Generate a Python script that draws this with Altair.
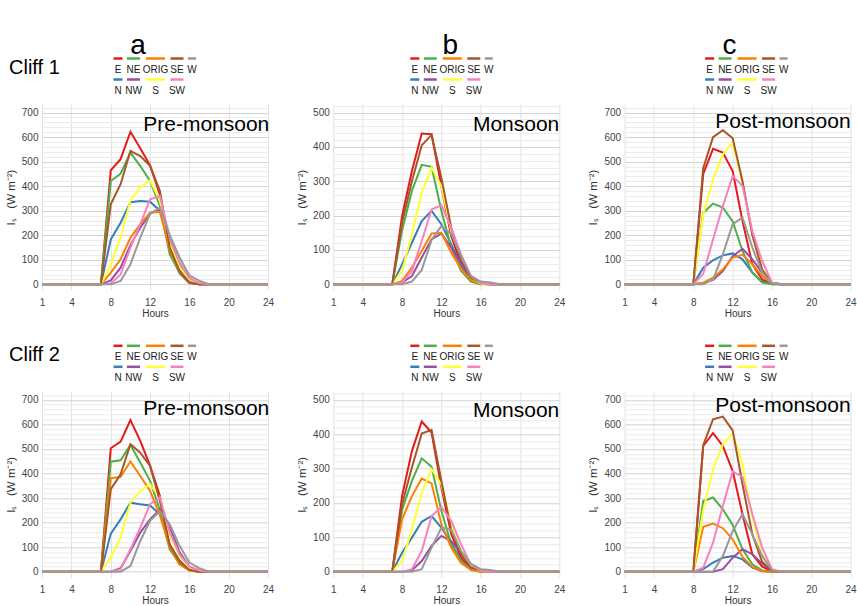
import altair as alt
import pandas as pd

FONT = "Liberation Sans"

HOURS = list(range(1, 25))
FIRST_HOUR = 7  # each series below lists hours 7..18; every other hour is zero
DIRECTIONS = ["E", "N", "NE", "NW", "ORIG", "S", "SE", "SW", "W"]
COLORS = ["#E41A1C", "#377EB8", "#4DAF4A", "#984EA3", "#FF7F00",
          "#FFFF33", "#A65628", "#F781BF", "#999999"]
X_TICKS = [1, 4, 8, 12, 16, 20, 24]

# Cliff 1 ------------------------------------------------------------------
cliff1_pre = {
    "E":    [0, 465, 510, 622, 555, 485, 365, 135, 45, 5, 0, 0],
    "N":    [0, 183, 251, 335, 340, 337, 300, 160, 60, 10, 0, 0],
    "NE":   [0, 421, 451, 537, 482, 421, 320, 122, 48, 7, 0, 0],
    "NW":   [0, 16, 68, 160, 231, 288, 306, 180, 80, 20, 5, 0],
    "ORIG": [0, 48, 102, 190, 245, 292, 296, 140, 55, 10, 0, 0],
    "S":    [0, 80, 190, 342, 394, 424, 340, 165, 70, 20, 5, 0],
    "SE":   [0, 326, 408, 544, 523, 483, 380, 150, 54, 7, 0, 0],
    "SW":   [0, 3, 40, 150, 245, 347, 360, 190, 90, 25, 5, 0],
    "W":    [0, 0, 14, 82, 190, 288, 313, 200, 110, 35, 15, 0],
}
cliff1_mon = {
    "E":    [0, 199, 330, 439, 437, 285, 140, 60, 15, 2, 0, 0],
    "N":    [0, 58, 121, 184, 214, 175, 117, 55, 15, 2, 0, 0],
    "NE":   [0, 157, 272, 348, 342, 214, 107, 40, 8, 0, 0, 0],
    "NW":   [0, 5, 24, 78, 131, 148, 107, 60, 20, 5, 0, 0],
    "ORIG": [0, 10, 49, 97, 148, 150, 92, 45, 12, 2, 0, 0],
    "S":    [0, 39, 146, 267, 340, 286, 155, 80, 20, 3, 0, 0],
    "SE":   [0, 180, 300, 405, 435, 310, 165, 70, 20, 5, 0, 0],
    "SW":   [0, 5, 39, 126, 218, 230, 165, 87, 25, 5, 0, 0],
    "W":    [0, 0, 8, 42, 129, 170, 146, 83, 24, 8, 5, 0],
}
cliff1_post = {
    "E":    [0, 0, 450, 552, 537, 462, 258, 82, 20, 2, 0, 0],
    "N":    [0, 0, 68, 98, 118, 126, 102, 48, 11, 0, 0, 0],
    "NE":   [0, 0, 292, 329, 313, 256, 136, 48, 7, 0, 0, 0],
    "NW":   [0, 0, 5, 18, 54, 115, 145, 102, 48, 5, 0, 0],
    "ORIG": [0, 0, 7, 27, 61, 109, 120, 82, 34, 3, 0, 0],
    "S":    [0, 0, 285, 428, 530, 578, 410, 210, 60, 5, 0, 0],
    "SE":   [0, 0, 473, 600, 628, 595, 420, 200, 60, 5, 0, 0],
    "SW":   [0, 0, 43, 183, 319, 442, 401, 217, 95, 7, 0, 0],
    "W":    [0, 0, 0, 20, 122, 245, 272, 150, 48, 5, 0, 0],
}

# Cliff 2 ------------------------------------------------------------------
cliff2_pre = {
    "E":    [0, 503, 530, 618, 533, 431, 308, 100, 30, 5, 0, 0],
    "N":    [0, 155, 213, 281, 275, 270, 234, 110, 45, 8, 0, 0],
    "NE":   [0, 448, 454, 516, 445, 370, 250, 90, 35, 5, 0, 0],
    "NW":   [0, 0, 14, 84, 159, 213, 254, 180, 80, 20, 5, 0],
    "ORIG": [0, 381, 386, 449, 390, 329, 230, 100, 30, 5, 0, 0],
    "S":    [0, 57, 139, 281, 329, 356, 302, 150, 60, 15, 3, 0],
    "SE":   [0, 336, 397, 519, 485, 431, 288, 110, 40, 8, 0, 0],
    "SW":   [0, 0, 10, 91, 179, 275, 302, 160, 70, 20, 5, 0],
    "W":    [0, 0, 0, 23, 125, 207, 247, 193, 105, 37, 14, 0],
}
cliff2_mon = {
    "E":    [0, 220, 351, 437, 405, 245, 110, 40, 10, 2, 0, 0],
    "N":    [0, 55, 99, 145, 162, 128, 84, 30, 8, 0, 0, 0],
    "NE":   [0, 180, 264, 330, 305, 177, 80, 30, 5, 0, 0, 0],
    "NW":   [0, 0, 4, 31, 75, 104, 89, 55, 15, 3, 0, 0],
    "ORIG": [0, 152, 220, 271, 257, 138, 70, 25, 5, 0, 0, 0],
    "S":    [0, 31, 123, 230, 298, 254, 138, 60, 15, 2, 0, 0],
    "SE":   [0, 196, 303, 402, 413, 264, 120, 50, 12, 3, 0, 0],
    "SW":   [0, 0, 7, 60, 162, 188, 148, 80, 20, 3, 0, 0],
    "W":    [0, 0, 0, 7, 70, 128, 123, 60, 23, 7, 5, 0],
}
cliff2_post = {
    "E":    [0, 0, 512, 564, 512, 410, 234, 71, 20, 2, 0, 0],
    "N":    [0, 0, 10, 37, 57, 64, 50, 16, 2, 0, 0, 0],
    "NE":   [0, 0, 288, 302, 254, 190, 91, 30, 5, 0, 0, 0],
    "NW":   [0, 0, 0, 0, 10, 57, 91, 71, 33, 3, 0, 0],
    "ORIG": [0, 0, 183, 196, 177, 132, 60, 19, 3, 0, 0, 0],
    "S":    [0, 0, 250, 417, 519, 563, 438, 220, 70, 5, 0, 0],
    "SE":   [0, 0, 515, 621, 632, 576, 356, 152, 40, 3, 0, 0],
    "SW":   [0, 0, 16, 118, 268, 408, 386, 234, 98, 10, 0, 0],
    "W":    [0, 0, 0, 0, 64, 166, 234, 152, 64, 5, 0, 0],
}

PANEL_W, PANEL_H = 226, 186

# legend grid: entries fill two rows column by column
LEGEND_COL_CENTER = [76.0, 91.5, 113.5, 135.0, 150.0]
LEGEND_COL_WIDTH = [9, 13, 19, 13, 8]

Y_TITLE = "Iₛ\u00a0\u00a0\u00a0(W m⁻²)"


def series_frame(series):
    rows = []
    for d in DIRECTIONS:
        vals = series[d]
        full = [0] * (FIRST_HOUR - 1) + vals + [0] * (24 - (FIRST_HOUR - 1) - len(vals))
        for h, v in zip(HOURS, full):
            rows.append({"hour": h, "value": v, "dir": d})
    return pd.DataFrame(rows)


def legend_frame(dx):
    rows = []
    for i, d in enumerate(DIRECTIONS):
        col, row = i // 2, i % 2
        cx = LEGEND_COL_CENTER[col] + dx
        half = LEGEND_COL_WIDTH[col] / 2
        rows.append({
            "dir": d, "cx": cx, "x1": cx - half, "x2": cx + half,
            "ry": -45.5 + 21 * row, "ty": -34.5 + 21.5 * row,
        })
    return pd.DataFrame(rows)


color_enc = alt.Color("dir:N", scale=alt.Scale(domain=DIRECTIONS, range=COLORS), legend=None)


def text_layer(txt, x, y, size, align="center", baseline="middle"):
    return alt.Chart(pd.DataFrame({"t": [txt]})).mark_text(
        font=FONT, fontSize=size, align=align, baseline=baseline, color="#000000"
    ).encode(text="t:N", x=alt.value(x), y=alt.value(y))


def make_panel(series, season, ymax, letter=None, letter_x=0, cliff=None,
               legend_dx=0.0, season_dy=26, season_dx=1.0):
    ylo, yhi = -0.033 * ymax, 1.05 * ymax
    lines = alt.Chart(series_frame(series)).mark_line(strokeWidth=2).encode(
        x=alt.X(
            "hour:Q",
            scale=alt.Scale(domain=[1, 24], nice=False, zero=False),
            axis=alt.Axis(
                values=X_TICKS, title="Hours", grid=True, gridColor="#e2e2e2",
                domain=False, ticks=False, tickSize=0, labelPadding=7,
                labelFlush=False, labelFontSize=10, labelFont=FONT,
                labelColor="#444444", titleFont=FONT, titleFontSize=10,
                titleFontWeight="normal", titleColor="#333333", titlePadding=1,
            ),
        ),
        y=alt.Y(
            "value:Q",
            scale=alt.Scale(domain=[ylo, yhi], nice=False, zero=False),
            axis=alt.Axis(
                values=list(range(0, int(yhi) + 1, 20)),
                labelExpr="datum.value % 100 === 0 ? datum.label : ''",
                grid=True,
                gridColor={"condition": {"test": "datum.value % 100 === 0", "value": "#d3d3d3"},
                           "value": "#ececec"},
                domain=False, ticks=False, tickSize=0, labelPadding=4,
                labelOverlap=False, labelFlush=False, labelFontSize=10,
                labelFont=FONT, labelColor="#444444",
                title=Y_TITLE, titleFont=FONT, titleFontSize=11.5,
                titleFontWeight="normal", titleColor="#333333", titlePadding=5,
            ),
        ),
        color=color_enc,
    )

    leg = alt.Chart(legend_frame(legend_dx))
    leg_rules = leg.mark_rule(strokeWidth=2.5).encode(
        x=alt.X("x1:Q", scale=None), x2="x2:Q",
        y=alt.Y("ry:Q", scale=None), color=color_enc,
    )
    leg_text = leg.mark_text(font=FONT, fontSize=10, baseline="middle", color="#1a1a1a").encode(
        x=alt.X("cx:Q", scale=None), y=alt.Y("ty:Q", scale=None), text="dir:N",
    )

    layers = [lines, leg_rules, leg_text,
              text_layer(season, PANEL_W + season_dx, season_dy, 21, align="right",
                         baseline="alphabetic")]
    if letter:
        layers.append(text_layer(letter, letter_x, -58, 28))
    if cliff:
        layers.append(text_layer(cliff, -33, -36, 20, align="left"))
    return alt.layer(*layers).properties(width=PANEL_W, height=PANEL_H)


panels = [
    make_panel(cliff1_pre, "Pre-monsoon", 700, "a", 96, "Cliff 1", 0.0, 27, 1.3),
    make_panel(cliff1_mon, "Monsoon", 500, "b", 117, None, 5.5, 27, 0.0),
    make_panel(cliff1_post, "Post-monsoon", 700, "c", 105, None, 9.0, 24, 0.0),
    make_panel(cliff2_pre, "Pre-monsoon", 700, None, 0, "Cliff 2", 0.0, 24, 1.3),
    make_panel(cliff2_mon, "Monsoon", 500, None, 0, None, 5.5, 26, 0.0),
    make_panel(cliff2_post, "Post-monsoon", 700, None, 0, None, 9.0, 21, 0.0),
]

chart = alt.concat(
    *panels, columns=3, spacing={"row": 101.3, "column": 65.3}, bounds="flush"
).properties(
    padding={"left": 5, "top": 32, "right": 0, "bottom": 0},
    background="white",
).configure_view(stroke=None)

chart.save("out.html", embed_options={"renderer": "svg", "actions": False})
